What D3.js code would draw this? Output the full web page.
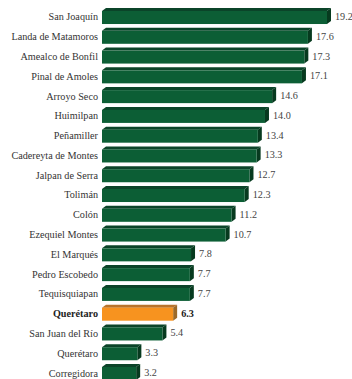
<!DOCTYPE html>
<html><head><meta charset="utf-8">
<script src="https://cdn.jsdelivr.net/npm/d3@7"></script>
<style>html,body{margin:0;padding:0;background:#fff;} text{font-family:"Liberation Serif","Times New Roman",Times,serif;}</style>
</head><body>
<svg id="c" width="352" height="379"></svg>
<script>
const categories = ["San Joaquín","Landa de Matamoros","Amealco de Bonfil","Pinal de Amoles","Arroyo Seco","Huimilpan","Peñamiller","Cadereyta de Montes","Jalpan de Serra","Tolimán","Colón","Ezequiel Montes","El Marqués","Pedro Escobedo","Tequisquiapan","Querétaro ","San Juan del Río","Querétaro","Corregidora"];
const values = [19.2,17.6,17.3,17.1,14.6,14.0,13.4,13.3,12.7,12.3,11.2,10.7,7.8,7.7,7.7,6.3,5.4,3.3,3.2];
const highlight = "Querétaro ";
const valueLabels = values.map(v => v.toFixed(1));

const svg = d3.select("#c");
const D = 4, DY = 3;
const x = d3.scaleLinear().domain([0, 19.2]).range([102, 331]);
const y = d3.scaleBand().domain(categories).range([6.12, 381.9]).paddingInner(0.19).paddingOuter(0.095);

const data = categories.map((c,i)=>({c, v:values[i], lab:valueLabels[i], hi:c===highlight}));
const g = svg.selectAll("g.bar").data(data).join("g").attr("class","bar");
g.each(function(d){
  const s = d3.select(this);
  const x0 = x(0), x1 = x(d.v) - D;
  const yt = y(d.c) + DY, yb = y(d.c) + y.bandwidth();
  const front = d.hi ? "#f7931f" : "#0c5e35";
  const top = d.hi ? "#b8742c" : "#0b4429";
  const side = d.hi ? "#9c6a2a" : "#073a1f";
  s.append("path").attr("d", `M${x0},${yt}L${x0+D},${yt-DY}L${x1+D},${yt-DY}L${x1},${yt}Z`).attr("fill", top);
  s.append("path").attr("d", `M${x1},${yt}L${x1+D},${yt-DY}L${x1+D},${yb-DY}L${x1},${yb}Z`).attr("fill", side);
  s.append("rect").attr("x", x0).attr("y", yt).attr("width", x1-x0).attr("height", yb-yt).attr("fill", front);
  s.append("text").attr("x", 98).attr("y", yt+9.5).attr("text-anchor","end")
    .attr("font-size", 10.2)
    .attr("font-weight", d.hi ? "bold" : "normal").attr("fill", d.hi ? "#222" : "#333")
    .text(d.c.trim());
  s.append("text").attr("x", x(d.v)+4).attr("y", yt+9).attr("text-anchor","start")
    .attr("font-size", 10.2)
    .attr("font-weight", d.hi ? "bold" : "normal").attr("fill", d.hi ? "#222" : "#444")
    .text(d.lab);
});
</script>
</body></html>
